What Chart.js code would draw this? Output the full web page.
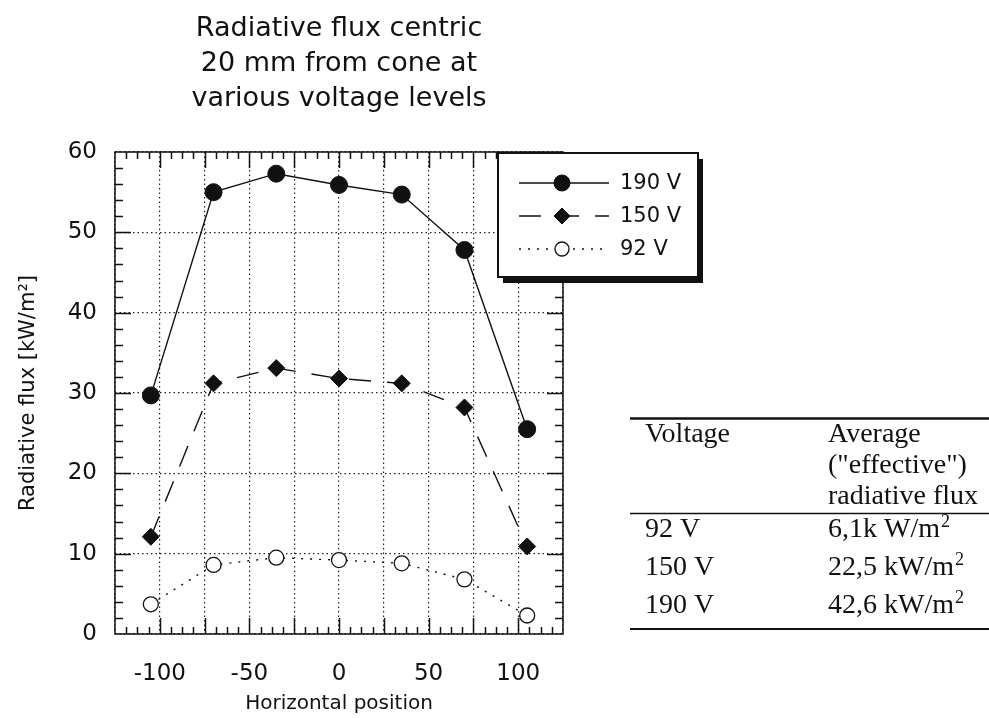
<!DOCTYPE html>
<html>
<head>
<meta charset="utf-8">
<title>Radiative flux centric 20 mm from cone</title>
<script src="https://cdn.jsdelivr.net/npm/chart.js@4/dist/chart.umd.min.js"></script>
<style>
  html, body { margin: 0; padding: 0; background: #fff; }
  canvas { display: block; }
</style>
</head>
<body>
<canvas id="flux" width="989" height="718"></canvas>
<script>
// measurement positions (mm) and radiative flux (kW/m2) per voltage level
const positions = [-105, -70, -35, 0, 35, 70, 105];
const flux190 = [29.7, 55.0, 57.3, 55.9, 54.7, 47.8, 25.5];
const flux150 = [12.1, 31.2, 33.1, 31.8, 31.2, 28.2, 10.9];
const flux92  = [3.7, 8.6, 9.5, 9.2, 8.8, 6.8, 2.3];

const seriesLabels = ['190 V', '150 V', '92 V'];
const xTickLabels = [-100, -50, 0, 50, 100];
const yTickLabels = [0, 10, 20, 30, 40, 50, 60];

const titleLines = ['Radiative flux centric', '20 mm from cone at', 'various voltage levels'];

// summary table beside the chart
const tableVoltages = ['92 V', '150 V', '190 V'];
const tableAverages = ['6,1k W/m²', '22,5 kW/m²', '42,6 kW/m²'];
const tableHeader = ['Voltage', ['Average', '("effective")', 'radiative flux']];

const INK = '#111';
const SANS = '"DejaVu Sans", sans-serif';
const SERIF = '"Liberation Serif", "Times New Roman", serif';

const toPoints = (ys) => positions.map((x, i) => ({ x, y: ys[i] }));

const datasets = [
  {
    label: seriesLabels[0], data: toPoints(flux190), showLine: true,
    borderColor: INK, borderWidth: 1.4,
    pointStyle: 'circle', pointRadius: 8.5, pointBackgroundColor: INK, pointBorderColor: INK, pointBorderWidth: 1
  },
  {
    label: seriesLabels[1], data: toPoints(flux150), showLine: true,
    borderColor: INK, borderWidth: 1.4, borderDash: [22, 16],
    pointStyle: 'rectRot', pointRadius: 8.5, pointBackgroundColor: INK, pointBorderColor: INK, pointBorderWidth: 1
  },
  {
    label: seriesLabels[2], data: toPoints(flux92), showLine: true,
    borderColor: INK, borderWidth: 1.4, borderDash: [2, 7],
    pointStyle: 'circle', pointRadius: 7.5, pointBackgroundColor: '#fff', pointBorderColor: INK, pointBorderWidth: 1.3
  }
];

// text with a trailing "²" drawn as a raised small 2
function drawSup(ctx, text, x, y, size) {
  const base = text.endsWith('²') ? text.slice(0, -1) : text;
  ctx.font = `${size}px ${SERIF}`;
  ctx.fillText(base, x, y);
  if (base !== text) {
    const w = ctx.measureText(base).width;
    ctx.font = `${Math.round(size * 0.66)}px ${SERIF}`;
    ctx.fillText('2', x + w + 1, y - size * 0.36);
  }
}

// box frame with inward major/minor ticks on all four sides
const framePlugin = {
  id: 'frame',
  afterDraw(chart) {
    const { ctx, chartArea: a, scales: { x, y } } = chart;
    ctx.save();
    ctx.strokeStyle = INK;
    ctx.lineWidth = 1.5;
    ctx.setLineDash([]);
    ctx.strokeRect(a.left, a.top, a.right - a.left, a.bottom - a.top);
    ctx.beginPath();
    for (let v = x.min + 6.25; v < x.max - 0.01; v += 6.25) {
      const px = Math.round(x.getPixelForValue(v)) + 0.5;
      const len = Math.abs(v % 25) < 0.01 ? 16 : 7;
      ctx.moveTo(px, a.bottom); ctx.lineTo(px, a.bottom - len);
      ctx.moveTo(px, a.top); ctx.lineTo(px, a.top + len);
    }
    for (let v = y.min + 2; v < y.max - 0.01; v += 2) {
      const py = Math.round(y.getPixelForValue(v)) + 0.5;
      const len = v % 10 === 0 ? 16 : 8;
      ctx.moveTo(a.left, py); ctx.lineTo(a.left + len, py);
      ctx.moveTo(a.right, py); ctx.lineTo(a.right - len, py);
    }
    ctx.stroke();
    ctx.restore();
  }
};

// legend box with drop shadow, upper right of the plot
const legendPlugin = {
  id: 'boxLegend',
  afterDraw(chart) {
    const { ctx } = chart;
    const bx = 498, by = 153, bw = 200, bh = 124;
    ctx.save();
    ctx.fillStyle = INK;
    ctx.fillRect(bx + 5, by + 6, bw, bh);
    ctx.fillStyle = '#fff';
    ctx.fillRect(bx, by, bw, bh);
    ctx.strokeStyle = INK;
    ctx.lineWidth = 2;
    ctx.strokeRect(bx, by, bw, bh);
    chart.data.datasets.forEach((ds, i) => {
      const ly = by + 30 + i * 33;
      ctx.strokeStyle = ds.borderColor;
      ctx.lineWidth = ds.borderWidth;
      ctx.setLineDash(ds.borderDash || []);
      ctx.beginPath();
      ctx.moveTo(bx + 21, ly); ctx.lineTo(bx + 111, ly);
      ctx.stroke();
      ctx.setLineDash([]);
      ctx.fillStyle = ds.pointBackgroundColor;
      ctx.lineWidth = ds.pointBorderWidth;
      Chart.helpers.drawPoint(ctx, {
        pointStyle: ds.pointStyle, radius: ds.pointRadius - 0.5, borderWidth: ds.pointBorderWidth, rotation: 0
      }, bx + 64, ly);
      ctx.fillStyle = INK;
      ctx.font = `21px ${SANS}`;
      ctx.textBaseline = 'middle';
      ctx.textAlign = 'left';
      ctx.fillText(ds.label, bx + 122, ly + 1);
    });
    ctx.restore();
  }
};

// heading above the plot and the averages table to its right
const textPlugin = {
  id: 'extras',
  afterDraw(chart) {
    const { ctx, chartArea: a } = chart;
    ctx.save();
    ctx.fillStyle = INK;
    ctx.font = `27px ${SANS}`;
    ctx.textAlign = 'center';
    ctx.textBaseline = 'middle';
    const cx = (a.left + a.right) / 2;
    titleLines.forEach((t, i) => ctx.fillText(t, cx, 29 + i * 35));

    const tx = 630, tr = 989, col1 = 645, col2 = 828;
    ctx.strokeStyle = INK;
    ctx.lineWidth = 2.5;
    ctx.beginPath(); ctx.moveTo(tx, 418.5); ctx.lineTo(tr, 418.5); ctx.stroke();
    ctx.lineWidth = 1.5;
    ctx.beginPath(); ctx.moveTo(tx, 513.5); ctx.lineTo(tr, 513.5); ctx.stroke();
    ctx.lineWidth = 2;
    ctx.beginPath(); ctx.moveTo(tx, 629); ctx.lineTo(tr, 629); ctx.stroke();

    ctx.textAlign = 'left';
    ctx.textBaseline = 'alphabetic';
    ctx.font = `28px ${SERIF}`;
    ctx.fillText(tableHeader[0], col1, 442);
    tableHeader[1].forEach((t, i) => ctx.fillText(t, col2, 442 + i * 31));
    tableVoltages.forEach((t, i) => {
      ctx.font = `28px ${SERIF}`;
      ctx.fillText(t, col1, 537 + i * 38);
      drawSup(ctx, tableAverages[i], col2, 537 + i * 38, 28);
    });
    ctx.restore();
  }
};

new Chart(document.getElementById('flux'), {
  type: 'scatter',
  data: { datasets },
  options: {
    responsive: false,
    animation: false,
    layout: { padding: { left: 0, top: 152, right: 426, bottom: 0 } },
    plugins: { legend: { display: false }, tooltip: { enabled: false } },
    scales: {
      x: {
        type: 'linear', min: -125, max: 125,
        afterFit: (s) => { s.height = 84; },
        grid: { color: '#222', lineWidth: 1.2, drawTicks: false },
        border: { display: false, dash: [1.5, 3] },
        ticks: {
          stepSize: 25, padding: 26, color: INK, font: { family: SANS, size: 23 },
          maxRotation: 0, minRotation: 0, autoSkip: false,
          callback: (v) => (xTickLabels.includes(v) ? String(v) : '')
        },
        title: {
          display: true, text: 'Horizontal position', color: INK,
          font: { family: SANS, size: 20 }, padding: { top: 0, bottom: 2 }
        }
      },
      y: {
        min: 0, max: 60,
        afterFit: (s) => { s.width = 115; },
        grid: { color: '#222', lineWidth: 1.2, drawTicks: false },
        border: { display: false, dash: [1.5, 3] },
        ticks: {
          stepSize: 10, padding: 18, color: INK, font: { family: SANS, size: 23 },
          callback: (v) => (yTickLabels.includes(v) ? String(v) : '')
        },
        title: {
          display: true, text: 'Radiative flux [kW/m²]', color: INK,
          font: { family: SANS, size: 21 }, padding: { top: 16, bottom: 0 }
        }
      }
    }
  },
  plugins: [framePlugin, legendPlugin, textPlugin]
});
</script>
</body>
</html>
